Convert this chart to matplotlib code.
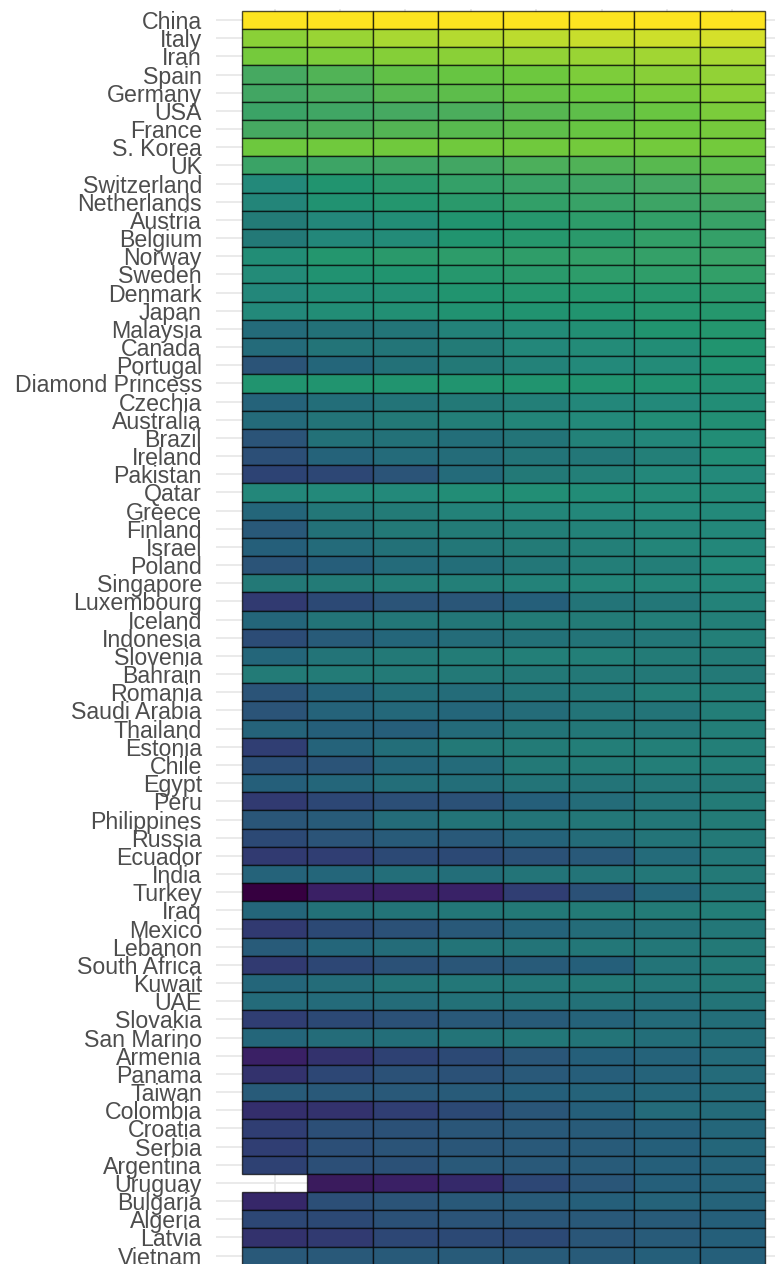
import numpy as np
import matplotlib.pyplot as plt
from matplotlib.colors import Normalize, LinearSegmentedColormap

plt.rcParams['font.family'] = ['Liberation Sans', 'DejaVu Sans']

countries = ["China", "Italy", "Iran", "Spain", "Germany", "USA", "France", "S. Korea",
             "UK", "Switzerland", "Netherlands", "Austria", "Belgium", "Norway", "Sweden",
             "Denmark", "Japan", "Malaysia", "Canada", "Portugal", "Diamond Princess",
             "Czechia", "Australia", "Brazil", "Ireland", "Pakistan", "Qatar", "Greece",
             "Finland", "Israel", "Poland", "Singapore", "Luxembourg", "Iceland",
             "Indonesia", "Slovenia", "Bahrain", "Romania", "Saudi Arabia", "Thailand",
             "Estonia", "Chile", "Egypt", "Peru", "Philippines", "Russia", "Ecuador",
             "India", "Turkey", "Iraq", "Mexico", "Lebanon", "South Africa", "Kuwait",
             "UAE", "Slovakia", "San Marino", "Armenia", "Panama", "Taiwan", "Colombia",
             "Croatia", "Serbia", "Argentina", "Uruguay", "Bulgaria", "Algeria", "Latvia",
             "Vietnam"]

nan = np.nan
# log10 of confirmed cases, one column per day (8 days)
log_cases = np.array([
    [4.91, 4.91, 4.91, 4.91, 4.91, 4.91, 4.91, 4.91],  # China
    [4.10, 4.18, 4.25, 4.33, 4.39, 4.45, 4.50, 4.55],  # Italy
    [3.95, 4.00, 4.06, 4.10, 4.14, 4.18, 4.21, 4.24],  # Iran
    [3.36, 3.50, 3.72, 3.81, 3.89, 4.00, 4.07, 4.14],  # Spain
    [3.28, 3.40, 3.56, 3.66, 3.76, 3.86, 3.97, 4.09],  # Germany
    [3.15, 3.25, 3.36, 3.42, 3.55, 3.68, 3.82, 3.98],  # USA
    [3.36, 3.42, 3.52, 3.58, 3.68, 3.80, 3.88, 3.95],  # France
    [3.89, 3.90, 3.90, 3.91, 3.91, 3.92, 3.92, 3.93],  # S. Korea
    [3.14, 3.19, 3.24, 3.29, 3.44, 3.49, 3.58, 3.68],  # UK
    [2.46, 2.70, 2.85, 3.04, 3.14, 3.24, 3.34, 3.49],  # Switzerland
    [2.36, 2.65, 2.75, 2.85, 3.00, 3.09, 3.19, 3.29],  # Netherlands
    [2.16, 2.41, 2.55, 2.70, 2.80, 2.90, 3.00, 3.09],  # Austria
    [2.11, 2.41, 2.50, 2.70, 2.80, 2.85, 3.00, 3.04],  # Belgium
    [2.55, 2.75, 2.85, 2.90, 2.95, 3.00, 3.04, 3.09],  # Norway
    [2.50, 2.65, 2.70, 2.80, 2.85, 2.90, 2.95, 3.00],  # Sweden
    [2.41, 2.55, 2.60, 2.70, 2.75, 2.77, 2.80, 2.85],  # Denmark
    [2.46, 2.55, 2.60, 2.65, 2.68, 2.70, 2.75, 2.77],  # Japan
    [1.77, 1.91, 2.01, 2.31, 2.50, 2.60, 2.70, 2.75],  # Malaysia
    [1.77, 1.96, 2.01, 2.16, 2.41, 2.50, 2.55, 2.70],  # Canada
    [1.33, 1.67, 1.91, 2.11, 2.31, 2.46, 2.50, 2.65],  # Portugal
    [2.70, 2.70, 2.70, 2.70, 2.69, 2.68, 2.66, 2.62],  # Diamond Princess
    [1.62, 1.86, 1.96, 2.11, 2.26, 2.41, 2.46, 2.55],  # Czechia
    [1.77, 1.96, 2.11, 2.26, 2.36, 2.46, 2.55, 2.60],  # Australia
    [1.33, 1.91, 1.91, 1.86, 1.96, 2.31, 2.41, 2.55],  # Brazil
    [1.23, 1.62, 1.77, 1.82, 1.96, 2.06, 2.26, 2.55],  # Ireland
    [1.03, 1.08, 1.33, 1.77, 2.11, 2.26, 2.41, 2.46],  # Pakistan
    [2.40, 2.45, 2.47, 2.55, 2.57, 2.52, 2.50, 2.50],  # Qatar
    [1.67, 2.06, 2.16, 2.31, 2.36, 2.41, 2.46, 2.46],  # Greece
    [1.42, 1.91, 2.11, 2.16, 2.26, 2.31, 2.36, 2.41],  # Finland
    [1.57, 1.77, 1.91, 2.06, 2.16, 2.26, 2.36, 2.41],  # Israel
    [1.33, 1.52, 1.77, 1.86, 2.06, 2.21, 2.21, 2.46],  # Poland
    [2.11, 2.16, 2.21, 2.26, 2.31, 2.36, 2.36, 2.41],  # Singapore
    [0.88, 1.13, 1.33, 1.37, 1.57, 1.96, 2.06, 2.31],  # Luxembourg
    [1.67, 1.96, 2.06, 2.06, 2.16, 2.16, 2.21, 2.26],  # Iceland
    [1.18, 1.47, 1.67, 1.82, 1.91, 1.96, 2.06, 2.26],  # Indonesia
    [1.67, 1.96, 2.11, 2.18, 2.26, 2.26, 2.16, 2.16],  # Slovenia
    [2.16, 2.16, 2.13, 2.11, 2.08, 2.08, 2.08, 2.11],  # Bahrain
    [1.33, 1.62, 1.86, 1.82, 1.96, 2.06, 2.21, 2.21],  # Romania
    [1.33, 1.62, 1.72, 1.67, 1.82, 1.96, 1.96, 2.21],  # Saudi Arabia
    [1.62, 1.57, 1.52, 1.77, 1.96, 2.06, 2.06, 2.21],  # Thailand
    [0.93, 1.62, 1.86, 2.11, 2.16, 2.21, 2.26, 2.26],  # Estonia
    [1.23, 1.33, 1.67, 1.77, 2.11, 2.16, 2.21, 2.21],  # Chile
    [1.57, 1.67, 1.86, 1.86, 1.96, 1.96, 2.06, 2.11],  # Egypt
    [0.88, 1.08, 1.23, 1.28, 1.57, 1.82, 1.96, 2.16],  # Peru
    [1.37, 1.47, 1.82, 1.96, 1.96, 2.06, 2.06, 2.16],  # Philippines
    [1.13, 1.33, 1.47, 1.42, 1.62, 1.82, 1.96, 2.11],  # Russia
    [0.88, 0.93, 1.13, 1.13, 1.28, 1.42, 1.77, 2.06],  # Ecuador
    [1.62, 1.67, 1.86, 1.86, 1.96, 1.96, 2.06, 2.11],  # India
    [0.00, 0.49, 0.49, 0.54, 0.93, 1.28, 1.67, 2.06],  # Turkey
    [1.67, 1.91, 1.96, 2.06, 2.11, 2.16, 2.16, 2.21],  # Iraq
    [0.88, 1.13, 1.28, 1.42, 1.62, 1.82, 1.91, 2.06],  # Mexico
    [1.47, 1.67, 1.82, 1.96, 1.96, 2.06, 2.06, 2.11],  # Lebanon
    [0.88, 1.08, 1.28, 1.37, 1.47, 1.57, 1.96, 2.11],  # South Africa
    [1.67, 1.82, 1.96, 2.06, 2.06, 2.11, 2.06, 2.11],  # Kuwait
    [1.77, 1.77, 1.82, 1.91, 1.91, 1.91, 1.86, 1.96],  # UAE
    [0.93, 1.13, 1.28, 1.42, 1.47, 1.62, 1.77, 1.86],  # Slovakia
    [1.67, 1.82, 1.86, 1.96, 2.06, 1.96, 1.86, 1.86],  # San Marino
    [0.49, 0.78, 0.98, 1.13, 1.37, 1.57, 1.62, 1.77],  # Armenia
    [0.78, 1.08, 1.28, 1.28, 1.42, 1.52, 1.62, 1.77],  # Panama
    [1.47, 1.42, 1.42, 1.47, 1.57, 1.62, 1.67, 1.77],  # Taiwan
    [0.74, 0.78, 0.93, 1.13, 1.37, 1.57, 1.77, 1.77],  # Colombia
    [0.93, 1.23, 1.28, 1.37, 1.42, 1.47, 1.57, 1.67],  # Croatia
    [0.93, 1.23, 1.33, 1.37, 1.42, 1.47, 1.57, 1.67],  # Serbia
    [0.98, 1.23, 1.28, 1.42, 1.42, 1.47, 1.57, 1.62],  # Argentina
    [nan,  0.39, 0.49, 0.69, 1.08, 1.37, 1.57, 1.62],  # Uruguay
    [0.64, 1.23, 1.33, 1.42, 1.47, 1.57, 1.62, 1.62],  # Bulgaria
    [1.08, 1.13, 1.28, 1.33, 1.37, 1.42, 1.47, 1.57],  # Algeria
    [0.78, 0.88, 1.08, 1.13, 1.13, 1.37, 1.47, 1.57],  # Latvia
    [1.42, 1.42, 1.45, 1.47, 1.47, 1.47, 1.57, 1.57],  # Vietnam
])

n_rows, n_days = log_cases.shape

# muted viridis-like ramp
ramp = [(0.00, '#360040'), (0.08, '#3a1c5e'), (0.10, '#3a2066'), (0.14, '#352a6a'),
        (0.18, '#313c72'), (0.21, '#2d4474'), (0.27, '#2b5478'), (0.32, '#25607a'),
        (0.35, '#24687a'), (0.40, '#237478'), (0.44, '#237b77'), (0.50, '#23897a'),
        (0.55, '#21946f'), (0.60, '#2f9d69'), (0.64, '#3aa366'), (0.684, '#45a862'),
        (0.73, '#58b94f'), (0.79, '#6cc83e'), (0.835, '#8ad037'), (0.866, '#a8d832'),
        (0.927, '#d4e02a'), (1.00, '#fde420')]
cmap = LinearSegmentedColormap.from_list('muted_viridis', ramp)
norm = Normalize(vmin=np.nanmin(log_cases), vmax=np.nanmax(log_cases))

fig = plt.figure(figsize=(7.75, 12.64), dpi=100)
ax = fig.add_axes([0.2785, -0.002, 0.7423, 0.9948])

rows = np.arange(n_rows)
# one column of tiles per day, missing days left empty
for d in range(n_days):
    vals = log_cases[:, d]
    ok = ~np.isnan(vals)
    ax.barh(rows[ok], 1.0, left=d + 0.5, height=1.0,
            color=cmap(norm(vals[ok])), edgecolor=(0, 0, 0, 0.7), linewidth=1.0)

ax.set_xlim(0.1, n_days + 0.9)
ax.set_ylim(n_rows - 0.4, -0.6)
ax.set_yticks(rows)
ax.set_yticklabels(countries)
ax.set_xticks(np.arange(1, n_days + 1))
ax.grid(color='#e8e8e8', linewidth=1.3)
ax.set_axisbelow(True)
for s in ax.spines.values():
    s.set_visible(False)
ax.tick_params(length=0, pad=10, labelsize=16.7, labelcolor='#4d4d4d', labelbottom=False)

fig.savefig('out.png', dpi=100)
